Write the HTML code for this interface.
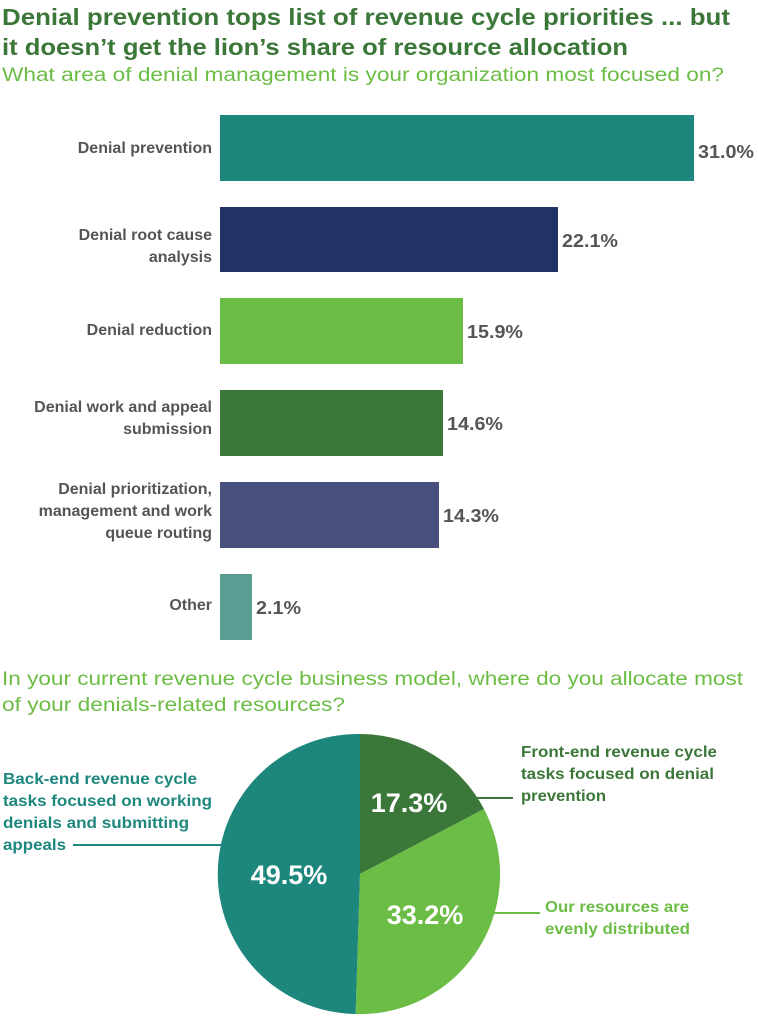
<!DOCTYPE html>
<html><head><meta charset="utf-8"><style>
html,body{margin:0;padding:0;background:#fff;width:758px;height:1024px;overflow:hidden}
svg{display:block}
text{font-family:"Liberation Sans",sans-serif}
</style></head><body>
<svg width="758" height="1024" viewBox="0 0 758 1024" xmlns="http://www.w3.org/2000/svg">
<g fill="#3b7739" font-weight="bold" font-size="23">
<text x="2" y="25" textLength="728" lengthAdjust="spacingAndGlyphs">Denial prevention tops list of revenue cycle priorities ... but</text>
<text x="2" y="55" textLength="626" lengthAdjust="spacingAndGlyphs">it doesn’t get the lion’s share of resource allocation</text>
</g>
<text x="2" y="81" font-size="19" fill="#6cbd45" textLength="722" lengthAdjust="spacingAndGlyphs">What area of denial management is your organization most focused on?</text>

<rect x="220" y="115" width="474" height="66" fill="#1d877d"/>
<rect x="220" y="207" width="338" height="65" fill="#223166"/>
<rect x="220" y="298" width="243" height="66" fill="#6cbd45"/>
<rect x="220" y="390" width="223" height="66" fill="#3b7739"/>
<rect x="220" y="482" width="219" height="66" fill="#474f7c"/>
<rect x="220" y="574" width="32" height="66" fill="#5a9e96"/>

<g fill="#555" font-weight="bold" font-size="16" text-anchor="end">
<text x="212" y="153">Denial prevention</text>
<text x="212" y="240">Denial root cause</text>
<text x="212" y="262">analysis</text>
<text x="212" y="335">Denial reduction</text>
<text x="212" y="412">Denial work and appeal</text>
<text x="212" y="434">submission</text>
<text x="212" y="494">Denial prioritization,</text>
<text x="212" y="516">management and work</text>
<text x="212" y="538">queue routing</text>
<text x="212" y="610">Other</text>
</g>
<g fill="#555" font-weight="bold" font-size="18">
<text x="698" y="158" textLength="56" lengthAdjust="spacingAndGlyphs">31.0%</text>
<text x="562" y="247" textLength="56" lengthAdjust="spacingAndGlyphs">22.1%</text>
<text x="467" y="338" textLength="56" lengthAdjust="spacingAndGlyphs">15.9%</text>
<text x="447" y="430" textLength="56" lengthAdjust="spacingAndGlyphs">14.6%</text>
<text x="443" y="522" textLength="56" lengthAdjust="spacingAndGlyphs">14.3%</text>
<text x="256" y="614" textLength="45" lengthAdjust="spacingAndGlyphs">2.1%</text>
</g>

<g fill="#6cbd45" font-size="19">
<text x="2" y="685" textLength="741" lengthAdjust="spacingAndGlyphs">In your current revenue cycle business model, where do you allocate most</text>
<text x="2" y="711" textLength="343" lengthAdjust="spacingAndGlyphs">of your denials-related resources?</text>
</g>

<path d="M360,874 L360,734 A140,140 0 0 1 484,809 Z" fill="#3b7739"/>
<path d="M360,874 L484,809 A140,140 0 0 1 355.6,1014 Z" fill="#6cbd45"/>
<path d="M360,874 L355.6,1014 A140,140 0 0 1 360,734 Z" fill="#1d877d"/>

<g fill="#fff" font-weight="bold" font-size="27" text-anchor="middle">
<text x="409" y="812">17.3%</text>
<text x="289" y="884">49.5%</text>
<text x="425" y="924">33.2%</text>
</g>

<g font-weight="bold" font-size="16">
<g fill="#1d877d">
<text x="3" y="784" textLength="194" lengthAdjust="spacingAndGlyphs">Back-end revenue cycle</text>
<text x="3" y="806" textLength="209" lengthAdjust="spacingAndGlyphs">tasks focused on working</text>
<text x="3" y="828" textLength="186" lengthAdjust="spacingAndGlyphs">denials and submitting</text>
<text x="3" y="850" textLength="63" lengthAdjust="spacingAndGlyphs">appeals</text>
</g>
<g fill="#3b7739">
<text x="521" y="757" textLength="196" lengthAdjust="spacingAndGlyphs">Front-end revenue cycle</text>
<text x="521" y="779" textLength="193" lengthAdjust="spacingAndGlyphs">tasks focused on denial</text>
<text x="521" y="801" textLength="85" lengthAdjust="spacingAndGlyphs">prevention</text>
</g>
<g fill="#6cbd45">
<text x="545" y="912" textLength="144" lengthAdjust="spacingAndGlyphs">Our resources are</text>
<text x="545" y="934" textLength="145" lengthAdjust="spacingAndGlyphs">evenly distributed</text>
</g>
</g>
<line x1="73" y1="845" x2="222" y2="845" stroke="#1d877d" stroke-width="2"/>
<line x1="464" y1="798" x2="513" y2="798" stroke="#3b7739" stroke-width="2"/>
<line x1="490" y1="913" x2="540" y2="913" stroke="#6cbd45" stroke-width="2"/>
</svg>
</body></html>
